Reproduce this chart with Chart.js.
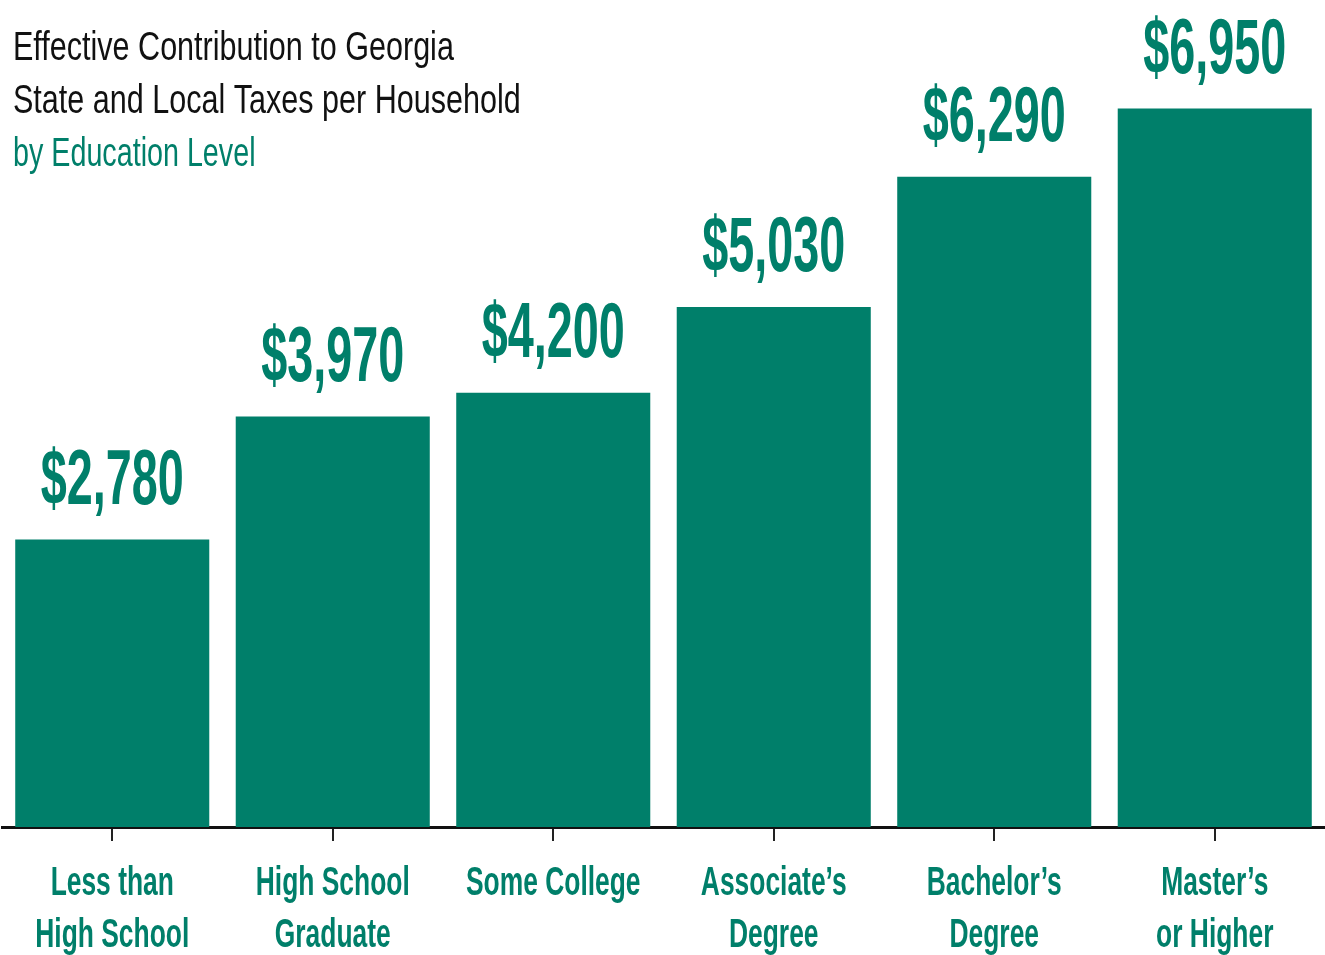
<!DOCTYPE html>
<html>
<head>
<meta charset="utf-8">
<script src="https://cdn.jsdelivr.net/npm/chart.js@4.4.1/dist/chart.umd.min.js"></script>
<style>
  html, body { margin: 0; padding: 0; background: #fff; }
  #wrap { width: 1325px; height: 955px; position: relative; }
</style>
</head>
<body>
<div id="wrap"><canvas id="taxChart"></canvas></div>
<script>
// data
const categories = [
    ['Less than', 'High School'],
    ['High School', 'Graduate'],
    ['Some College'],
    ['Associate\u2019s', 'Degree'],
    ['Bachelor\u2019s', 'Degree'],
    ['Master\u2019s', 'or Higher']
];
const taxValues = [2780, 3970, 4200, 5030, 6290, 6950];
const titleLines = ['Effective Contribution to Georgia', 'State and Local Taxes per Household'];
const subtitleLine = 'by Education Level';

const TEAL = '#007f6a';
const FONT = "'Liberation Sans', Arial, sans-serif";

function money(v) {
    return '$' + v.toLocaleString('en-US');
}

// the original uses a very condensed face, so squeeze the text horizontally
function squeezeText(ctx, text, x, y, sx, align) {
    ctx.save();
    ctx.translate(x, y);
    ctx.scale(sx, 1);
    ctx.textAlign = align;
    ctx.fillText(text, 0, 0);
    ctx.restore();
}

const textPlugin = {
    id: 'textPlugin',
    afterDraw(chart) {
        const ctx = chart.ctx;
        const xs = chart.scales.x;
        const meta = chart.getDatasetMeta(0);
        const base = chart.chartArea.bottom;
        ctx.save();
        ctx.textBaseline = 'alphabetic';

        // TITLE
        ctx.fillStyle = '#111';
        ctx.font = '41px ' + FONT;
        titleLines.forEach((t, i) => squeezeText(ctx, t, 13, 60 + i * 53, 0.745, 'left'));
        ctx.fillStyle = TEAL;
        squeezeText(ctx, subtitleLine, 13, 166, 0.7, 'left');

        // VALUE LABELS
        ctx.font = 'bold 78px ' + FONT;
        meta.data.forEach((bar, i) => {
            squeezeText(ctx, money(taxValues[i]), bar.x, bar.y - 36, 0.6, 'center');
        });

        // CATEGORY LABELS
        ctx.font = 'bold 40px ' + FONT;
        categories.forEach((lines, i) => {
            const x = xs.getPixelForValue(i);
            lines.forEach((t, j) => squeezeText(ctx, t, x, base + 68 + j * 52, 0.66, 'center'));
        });
        ctx.restore();
    }
};

var ctxTax = document.getElementById('taxChart').getContext('2d');
var taxChart = new Chart(ctxTax, {
    type: 'bar',
    data: {
        labels: categories.map(c => c.join(' ')),
        datasets: [{
            label: 'Taxes per household',
            data: taxValues,
            backgroundColor: TEAL,
            borderWidth: 0,
            barPercentage: 0.88,
            categoryPercentage: 1
        }]
    },
    options: {
        responsive: true,
        maintainAspectRatio: false,
        animation: false,
        layout: {
            padding: { top: 0, left: 2, right: -5, bottom: 114 }
        },
        plugins: {
            legend: { display: false },
            tooltip: { enabled: false }
        },
        scales: {
            x: {
                grid: {
                    offset: false,
                    drawOnChartArea: false,
                    drawTicks: true,
                    tickLength: 14,
                    color: '#222',
                    lineWidth: 2
                },
                border: { display: true, color: '#111', width: 3 },
                ticks: { display: false }
            },
            y: {
                display: false,
                min: 0,
                max: 8000
            }
        }
    },
    plugins: [textPlugin]
});
</script>
</body>
</html>
